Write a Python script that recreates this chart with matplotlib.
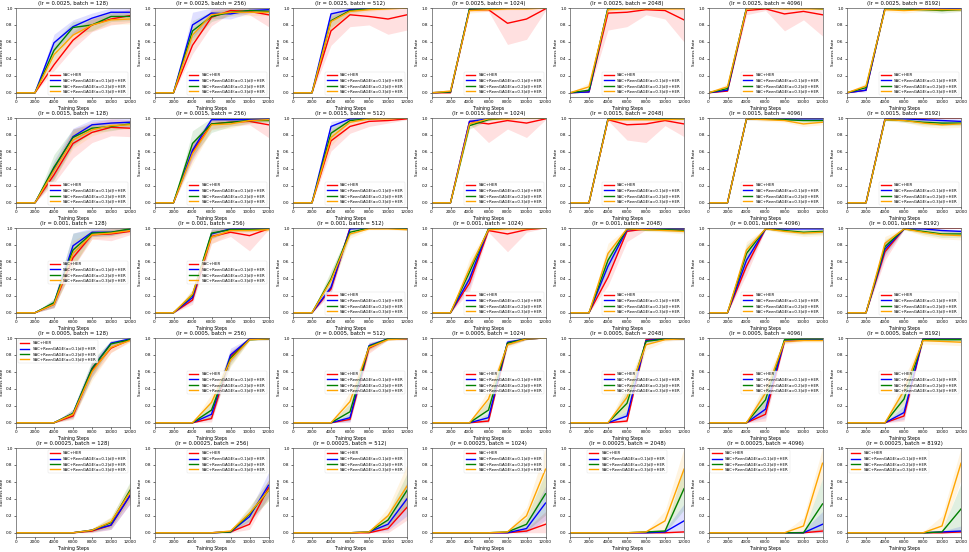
import matplotlib
matplotlib.use('Agg')
import matplotlib.pyplot as plt
import numpy as np

steps = [0, 2000, 4000, 6000, 8000, 10000, 12000]
lrs = ['0.0025', '0.0015', '0.001', '0.0005', '0.00025']
batches = [128, 256, 512, 1024, 2048, 4096, 8192]
labels = ['SAC+HER', 'SAC+ReenGAGE(α=0.1|d|)+HER',
          'SAC+ReenGAGE(α=0.2|d|)+HER', 'SAC+ReenGAGE(α=0.3|d|)+HER']
colors = ['red', 'blue', 'green', 'orange']

# mean success rate, one list per batch size (128 ... 8192)
her_lr0025 = [[0, 0, .33, .62, .80, .87, .91], [0, 0, .56, .89, .97, .96, .92],
              [0, 0, .73, .92, .90, .87, .92], [0, 0, .98, .98, .82, .87, .99],
              [0, .01, .94, .95, .98, .97, .86], [0, .02, .97, .99, .93, .96, .92],
              [0, .03, 1, 1, 1, 1, 1]]
a1_lr0025 = [[0, 0, .59, .78, .88, .95, .95], [0, 0, .80, .94, .93, .97, .98],
             [0, 0, .93, .98, 1, 1, 1], [0, .01, .99, .99, 1, 1, 1],
             [0, .01, 1, 1, 1, 1, 1], [0, .03, 1, 1, 1, 1, 1],
             [0, .03, 1, 1, 1, 1, .99]]
a2_lr0025 = [[0, 0, .50, .77, .80, .90, .90], [0, 0, .73, .90, .95, .97, .96],
             [0, 0, .85, .97, .99, 1, 1], [0, .01, .99, .99, 1, 1, 1],
             [0, .03, 1, 1, 1, 1, 1], [0, .05, 1, 1, 1, 1, .99],
             [0, .06, .99, .99, .98, .97, .98]]
a3_lr0025 = [[0, 0, .45, .68, .80, .86, .87], [0, 0, .68, .92, .95, .95, .95],
             [0, 0, .84, .96, .98, .99, 1], [0, .02, .97, .98, .99, .99, 1],
             [0, .07, .98, .99, .99, .99, .99], [0, .07, .99, 1, .99, .99, .99],
             [0, .08, .98, .97, .98, .98, .98]]

her_lr0015 = [[0, 0, .33, .70, .83, .89, .88], [0, 0, .60, .93, .95, .96, .92],
              [0, 0, .73, .90, .96, .97, .99], [0, 0, .96, .93, .97, .94, .99],
              [0, 0, .98, .92, .93, .97, .93], [0, 0, .99, 1, 1, 1, 1],
              [0, 0, .99, 1, 1, 1, 1]]
a1_lr0015 = [[0, 0, .40, .78, .92, .94, .95], [0, 0, .62, .98, .98, .98, .99],
             [0, 0, .90, .99, 1, 1, 1], [0, 0, .96, .99, 1, 1, 1],
             [0, 0, .99, 1, 1, 1, 1], [0, 0, .99, .99, .99, .99, .99],
             [0, 0, .99, .99, .98, .97, .96]]
a2_lr0015 = [[0, 0, .42, .77, .88, .90, .93], [0, 0, .70, .93, .95, .97, .97],
             [0, 0, .82, .97, .99, 1, 1], [0, 0, .91, .98, 1, 1, 1],
             [0, 0, .99, .99, .99, .99, .99], [0, 0, .99, .99, .98, .97, .97],
             [0, 0, .98, .97, .95, .94, .94]]
a3_lr0015 = [[0, 0, .38, .74, .86, .91, .92], [0, 0, .58, .92, .93, .97, .98],
             [0, 0, .77, .95, .99, .99, 1], [0, 0, .93, .99, .99, 1, 1],
             [0, 0, .98, .98, .98, .98, .99], [0, 0, .99, .98, .97, .93, .95],
             [0, 0, .98, .97, .94, .92, .93]]

her_lr001 = [[0, 0, .10, .65, .92, .93, .96], [0, 0, .15, .90, .95, .91, .99],
             [0, 0, .28, 1, 1, 1, 1], [0, 0, .35, .97, .93, .98, 1],
             [0, 0, .42, .96, .99, .99, .99], [0, 0, .55, .99, 1, 1, 1],
             [0, 0, .72, .99, 1, 1, 1]]
a1_lr001 = [[0, 0, .11, .79, .95, .95, .98], [0, 0, .18, .93, .99, 1, .99],
            [0, 0, .30, .99, 1, 1, .99], [0, 0, .40, .99, 1, 1, 1],
            [0, 0, .55, .98, .99, .99, .99], [0, 0, .62, .99, .99, .99, .99],
            [0, 0, .75, .99, .99, .97, .96]]
a2_lr001 = [[0, 0, .12, .74, .94, .95, .99], [0, 0, .21, .94, .98, .98, .99],
            [0, 0, .40, .95, 1, 1, .99], [0, 0, .48, .99, 1, 1, 1],
            [0, 0, .62, .99, .98, .98, .97], [0, 0, .70, .99, .97, .95, .96],
            [0, 0, .78, .99, .96, .93, .93]]
a3_lr001 = [[0, 0, .10, .70, .92, .94, .97], [0, 0, .22, .89, .97, .97, .98],
            [0, 0, .38, .93, .99, .99, .98], [0, 0, .52, .98, .99, .99, 1],
            [0, 0, .70, .99, .98, .97, .96], [0, 0, .74, .99, .96, .94, .95],
            [0, 0, .82, .99, .95, .92, .91]]

her_lr0005 = [[0, 0, 0, .08, .62, .88, .98], [0, 0, 0, .05, .78, .99, .99],
              [0, 0, 0, .04, .88, .99, .99], [0, 0, 0, .02, .94, .99, 1],
              [0, 0, 0, .02, .98, .99, .99], [0, 0, 0, .10, .96, .98, .98],
              [0, 0, 0, .08, .99, 1, 1]]
a1_lr0005 = [[0, 0, 0, .11, .64, .94, .99], [0, 0, 0, .10, .80, .99, .99],
             [0, 0, 0, .06, .91, .99, .99], [0, 0, 0, .06, .95, .99, 1],
             [0, 0, 0, .08, .97, .99, .99], [0, 0, 0, .16, .97, .98, .98],
             [0, 0, 0, .12, .99, .99, .99]]
a2_lr0005 = [[0, 0, 0, .11, .64, .93, .98], [0, 0, 0, .15, .76, .98, .99],
             [0, 0, 0, .13, .90, .99, 1], [0, 0, 0, .15, .94, .99, 1],
             [0, 0, 0, .23, .96, .99, .99], [0, 0, 0, .27, .98, .99, .99],
             [0, 0, 0, .28, .98, .98, .98]]
a3_lr0005 = [[0, 0, 0, .10, .60, .89, .97], [0, 0, 0, .24, .74, .98, .99],
             [0, 0, 0, .25, .89, .98, .99], [0, 0, 0, .28, .92, .99, 1],
             [0, 0, 0, .30, .92, .98, .99], [0, 0, 0, .35, .96, .97, .97],
             [0, 0, 0, .38, .97, .96, .95]]

her_lr00025 = [[0, 0, 0, 0, .02, .09, .44], [0, 0, 0, 0, .01, .10, .53],
               [0, 0, 0, 0, 0, .05, .30], [0, 0, 0, 0, 0, .02, .10],
               [0, 0, 0, 0, 0, 0, .01], [0, 0, 0, 0, 0, 0, .02],
               [0, 0, 0, 0, 0, 0, .01]]
a1_lr00025 = [[0, 0, 0, 0, .03, .09, .44], [0, 0, 0, 0, .01, .19, .56],
              [0, 0, 0, 0, .01, .10, .40], [0, 0, 0, 0, 0, .05, .35],
              [0, 0, 0, 0, 0, .01, .14], [0, 0, 0, 0, 0, 0, .10],
              [0, 0, 0, 0, 0, .01, .02]]
a2_lr00025 = [[0, 0, 0, 0, .03, .12, .50], [0, 0, 0, 0, .01, .22, .50],
              [0, 0, 0, 0, .01, .15, .50], [0, 0, 0, 0, .01, .10, .46],
              [0, 0, 0, 0, .01, .02, .52], [0, 0, 0, 0, 0, 0, .34],
              [0, 0, 0, 0, 0, .01, .28]]
a3_lr00025 = [[0, 0, 0, 0, .03, .13, .48], [0, 0, 0, 0, .02, .23, .50],
              [0, 0, 0, 0, .01, .20, .55], [0, 0, 0, 0, .01, .20, .75],
              [0, 0, 0, 0, .01, .14, .75], [0, 0, 0, 0, 0, .08, .82],
              [0, 0, 0, 0, 0, .08, .82]]

# half width of the shaded band, same layout
her_lr0025_sd = [[0, 0, .07, .1, .08, .07, .08], [0, 0, .1, .1, .03, .04, .14],
                 [0, 0, .17, .14, .1, .18, .18], [0, 0, .02, .02, .25, .24, .02],
                 [0, 0, .2, .17, .06, .1, .26], [0, 0, .05, .02, .2, .1, .25],
                 [0, 0, 0, 0, 0, 0, .01]]
a1_lr0025_sd = [[0, 0, .1, .08, .06, .05, .05], [0, 0, .15, .06, .06, .03, .02],
                [0, 0, .06, .02, .01, 0, 0], [0, .01, .01, .01, 0, 0, 0],
                [0, .01, 0, 0, 0, 0, 0], [0, .01, 0, 0, 0, 0, 0],
                [0, .02, 0, .01, .01, .01, .01]]
a2_lr0025_sd = [[0, 0, .1, .07, .07, .06, .05], [0, 0, .12, .06, .04, .02, .03],
                [0, 0, .08, .03, .01, 0, 0], [0, .01, .01, .01, 0, 0, 0],
                [0, .02, 0, 0, 0, 0, 0], [0, .03, 0, 0, 0, 0, .01],
                [0, .03, .01, .01, .02, .03, .02]]
a3_lr0025_sd = [[0, 0, .1, .08, .07, .05, .06], [0, 0, .1, .05, .05, .04, .04],
                [0, 0, .1, .04, .02, .01, 0], [0, .02, .03, .02, .01, .01, 0],
                [0, .05, .02, .01, .01, .01, .01], [0, .04, .01, 0, .01, .01, .01],
                [0, .04, .02, .03, .02, .02, .02]]

her_lr0015_sd = [[0, 0, .1, .17, .12, .1, .1], [0, 0, .1, .06, .04, .04, .15],
                 [0, 0, .12, .08, .06, .03, .01], [0, 0, .03, .22, .1, .17, .01],
                 [0, 0, .01, .18, .22, .06, .15], [0, 0, .01, 0, 0, 0, 0],
                 [0, 0, .01, 0, 0, 0, 0]]
a1_lr0015_sd = [[0, 0, .1, .1, .06, .05, .05], [0, 0, .1, .03, .02, .02, .01],
                [0, 0, .06, .01, 0, 0, 0], [0, 0, .03, .01, 0, 0, 0],
                [0, 0, .01, 0, 0, 0, 0], [0, 0, .01, .01, .01, .01, .01],
                [0, 0, .01, .01, .02, .03, .03]]
a2_lr0015_sd = [[0, 0, .15, .1, .05, .05, .04], [0, 0, .15, .1, .05, .03, .02],
                [0, 0, .08, .02, .01, 0, 0], [0, 0, .04, .01, 0, 0, 0],
                [0, 0, .01, .01, .01, .01, .01], [0, 0, .01, .01, .01, .02, .02],
                [0, 0, .01, .02, .03, .03, .03]]
a3_lr0015_sd = [[0, 0, .1, .1, .07, .05, .05], [0, 0, .12, .06, .05, .03, .02],
                [0, 0, .1, .04, .01, .01, 0], [0, 0, .05, .01, .01, 0, 0],
                [0, 0, .01, .01, .01, .01, .01], [0, 0, .01, .02, .02, .03, .03],
                [0, 0, .01, .02, .04, .04, .04]]

her_lr001_sd = [[0, 0, .04, .12, .05, .08, .04], [0, 0, .05, .08, .05, .18, .01],
                [0, 0, .06, 0, 0, 0, 0], [0, 0, .1, .02, .21, .03, 0],
                [0, 0, .1, .12, .01, .02, .02], [0, 0, .1, .01, 0, 0, 0],
                [0, 0, .1, .01, 0, 0, 0]]
a1_lr001_sd = [[0, 0, .05, .15, .05, .04, .02], [0, 0, .05, .06, .02, .01, .01],
               [0, 0, .06, .01, 0, 0, .01], [0, 0, .1, .01, 0, 0, 0],
               [0, 0, .1, .02, .01, .01, .01], [0, 0, .1, .01, .01, .01, .01],
               [0, 0, .08, .01, .01, .02, .02]]
a2_lr001_sd = [[0, 0, .05, .2, .04, .04, .02], [0, 0, .06, .06, .02, .02, .01],
               [0, 0, .1, .04, 0, 0, .01], [0, 0, .1, .01, 0, 0, 0],
               [0, 0, .1, .01, .01, .02, .02], [0, 0, .1, .01, .02, .03, .03],
               [0, 0, .08, .01, .03, .04, .04]]
a3_lr001_sd = [[0, 0, .04, .15, .05, .05, .03], [0, 0, .06, .08, .03, .02, .02],
               [0, 0, .1, .05, .01, .01, .01], [0, 0, .12, .02, .01, .01, 0],
               [0, 0, .12, .01, .02, .02, .03], [0, 0, .1, .01, .03, .04, .04],
               [0, 0, .08, .01, .04, .05, .05]]

her_lr0005_sd = [[0, 0, 0, .04, .08, .05, .02], [0, 0, 0, .04, .07, .01, .01],
                 [0, 0, 0, .03, .06, .01, .01], [0, 0, 0, .02, .03, .01, 0],
                 [0, 0, 0, .02, .02, .01, .01], [0, 0, 0, .08, .02, .01, .01],
                 [0, 0, 0, .06, .01, 0, 0]]
a1_lr0005_sd = [[0, 0, 0, .05, .08, .03, .01], [0, 0, 0, .06, .08, .01, .01],
                [0, 0, 0, .05, .04, .01, .01], [0, 0, 0, .05, .03, .01, 0],
                [0, 0, 0, .06, .02, .01, .01], [0, 0, 0, .1, .02, .01, .01],
                [0, 0, 0, .08, .01, .01, .01]]
a2_lr0005_sd = [[0, 0, 0, .05, .1, .04, .01], [0, 0, 0, .1, .08, .01, .01],
                [0, 0, 0, .1, .04, .01, 0], [0, 0, 0, .12, .03, .01, 0],
                [0, 0, 0, .15, .03, .01, .01], [0, 0, 0, .15, .02, .01, .01],
                [0, 0, 0, .15, .02, .02, .02]]
a3_lr0005_sd = [[0, 0, 0, .05, .1, .06, .02], [0, 0, 0, .1, .08, .01, .01],
                [0, 0, 0, .12, .05, .01, .01], [0, 0, 0, .12, .04, .01, 0],
                [0, 0, 0, .15, .06, .02, .01], [0, 0, 0, .15, .03, .02, .02],
                [0, 0, 0, .15, .04, .04, .04]]

her_lr00025_sd = [[0, 0, 0, 0, .02, .05, .1], [0, 0, 0, 0, .01, .06, .1],
                  [0, 0, 0, 0, .01, .05, .15], [0, 0, 0, 0, .01, .03, .15],
                  [0, 0, 0, 0, 0, .01, .01], [0, 0, 0, 0, 0, .02, .03],
                  [0, 0, 0, 0, 0, .01, .01]]
a1_lr00025_sd = [[0, 0, 0, 0, .02, .05, .1], [0, 0, 0, 0, .01, .07, .15],
                 [0, 0, 0, 0, .01, .07, .2], [0, 0, 0, 0, .01, .05, .2],
                 [0, 0, 0, 0, 0, .03, .2], [0, 0, 0, 0, 0, .03, .15],
                 [0, 0, 0, 0, 0, .01, .06]]
a2_lr00025_sd = [[0, 0, 0, 0, .02, .06, .1], [0, 0, 0, 0, .02, .08, .12],
                 [0, 0, 0, 0, .01, .08, .2], [0, 0, 0, 0, .01, .08, .25],
                 [0, 0, 0, 0, .01, .02, .25], [0, 0, 0, 0, 0, .01, .3],
                 [0, 0, 0, 0, 0, .02, .3]]
a3_lr00025_sd = [[0, 0, 0, 0, .02, .06, .1], [0, 0, 0, 0, .02, .08, .12],
                 [0, 0, 0, 0, .01, .1, .25], [0, 0, 0, 0, .01, .1, .25],
                 [0, 0, 0, 0, .01, .12, .25], [0, 0, 0, 0, .01, .1, .18],
                 [0, 0, 0, 0, .01, .12, .2]]

legend_locs = [['lower right'] * 7,
               ['lower right'] * 7,
               ['center right'] * 2 + ['lower right'] * 5,
               ['upper left'] + ['center right'] * 6,
               ['upper right'] * 4 + ['upper center'] + ['upper left'] * 2]

means = [[her_lr0025, a1_lr0025, a2_lr0025, a3_lr0025],
         [her_lr0015, a1_lr0015, a2_lr0015, a3_lr0015],
         [her_lr001, a1_lr001, a2_lr001, a3_lr001],
         [her_lr0005, a1_lr0005, a2_lr0005, a3_lr0005],
         [her_lr00025, a1_lr00025, a2_lr00025, a3_lr00025]]
spreads = [[her_lr0025_sd, a1_lr0025_sd, a2_lr0025_sd, a3_lr0025_sd],
           [her_lr0015_sd, a1_lr0015_sd, a2_lr0015_sd, a3_lr0015_sd],
           [her_lr001_sd, a1_lr001_sd, a2_lr001_sd, a3_lr001_sd],
           [her_lr0005_sd, a1_lr0005_sd, a2_lr0005_sd, a3_lr0005_sd],
           [her_lr00025_sd, a1_lr00025_sd, a2_lr00025_sd, a3_lr00025_sd]]

W, H = 969, 552
fig = plt.figure(figsize=(W / 100, H / 100), dpi=100)

for r, lr in enumerate(lrs):
    for c, batch in enumerate(batches):
        ax = fig.add_axes([(16 + 138.5 * c) / W, 1 - (97 + 110 * r) / H, 114 / W, 89 / H])
        for m in range(4):
            y = np.array(means[r][m][c])
            s = np.array(spreads[r][m][c])
            ax.fill_between(steps, np.clip(y - s, 0, 1), np.clip(y + s, 0, 1),
                            color=colors[m], alpha=0.12, linewidth=0)
            ax.plot(steps, y, color=colors[m], linewidth=1.0, label=labels[m])
        ax.set_xlim(0, 12000)
        ax.set_ylim(-0.05, 1.0)
        ax.set_xticks(steps)
        ax.set_yticks([0, 0.2, 0.4, 0.6, 0.8, 1.0])
        ax.tick_params(labelsize=3, length=1.5, width=0.4, pad=1)
        for sp in ax.spines.values():
            sp.set_linewidth(0.5)
            sp.set_color('0.35')
        ax.set_title('(lr = %s, batch = %d)' % (lr, batch), fontsize=3.8, pad=2)
        ax.set_xlabel('Training Steps', fontsize=3.3, labelpad=1)
        ax.set_ylabel('Success Rate', fontsize=3, labelpad=1.5)
        ax.legend(loc=legend_locs[r][c], fontsize=2.8, handlelength=2.5,
                  borderpad=0.4, labelspacing=0.35, framealpha=0.8,
                  edgecolor='0.85').get_frame().set_linewidth(0.3)

fig.savefig('out.png', dpi=100)
